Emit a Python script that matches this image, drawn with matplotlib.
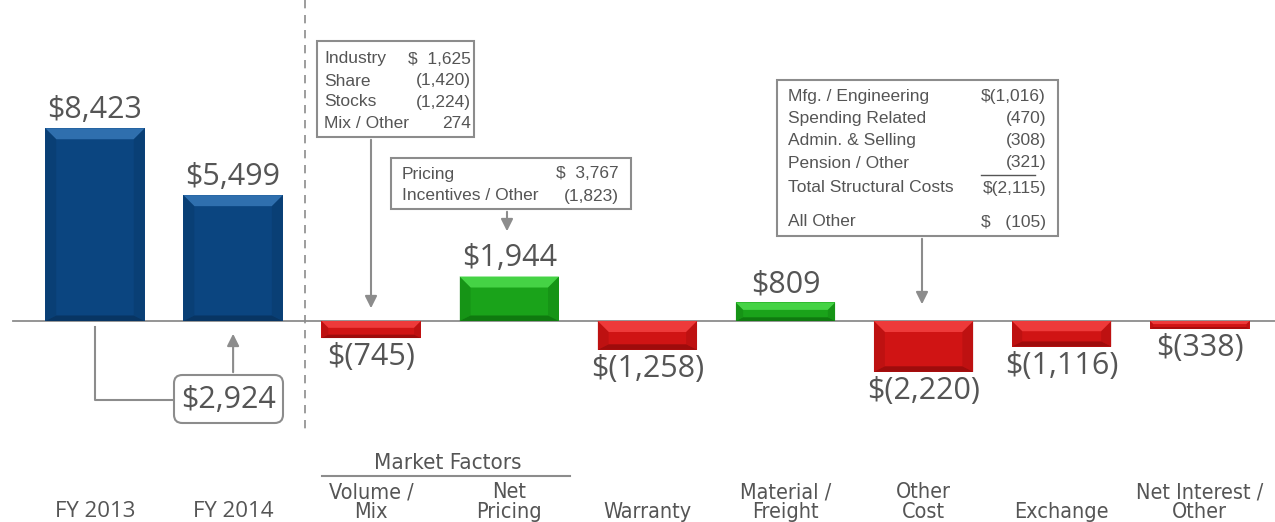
import numpy as np
import matplotlib.pyplot as plt
from matplotlib.patches import Polygon, FancyBboxPatch, Rectangle

# data ($ millions)
categories = ['FY 2013', 'FY 2014', 'Volume /\nMix', 'Net\nPricing', 'Warranty',
              'Material /\nFreight', 'Other\nCost', 'Exchange', 'Net Interest /\nOther']
values = [8423, 5499, -745, 1944, -1258, 809, -2220, -1116, -338]
labels = ['$8,423', '$5,499', '$(745)', '$1,944', '$(1,258)', '$809', '$(2,220)',
          '$(1,116)', '$(338)']
change_label = '$2,924'

volume_rows = [('Industry', '$  1,625'), ('Share', '(1,420)'),
               ('Stocks', '(1,224)'), ('Mix / Other', '274')]
pricing_rows = [('Pricing', '$  3,767'), ('Incentives / Other', '(1,823)')]
cost_rows = [('Mfg. / Engineering', '$(1,016)'), ('Spending Related', '(470)'),
             ('Admin. & Selling', '(308)'), ('Pension / Other', '(321)'),
             ('Total Structural Costs', '$(2,115)'), ('All Other', '$   (105)')]

GRAY = '#555555'
LINE = '#8c8c8c'
VALFONT = ['Open Sans', 'DejaVu Sans']
CATFONT = ['DejaVu Sans']
BOXFONT = ['Liberation Sans', 'DejaVu Sans']

W, H = 1275, 522
XSTEP, X0 = 138.1, 95          # px per category, px of first center
YSCALE, Y0 = 43.7, 321         # $M per px, px of zero line


def px(x):
    return (x - X0) / XSTEP


def py(y):
    return (Y0 - y) * YSCALE


fig = plt.figure(figsize=(W / 100, H / 100), dpi=100)
ax = fig.add_axes([0, 0, 1, 1])
ax.set_xlim(px(0), px(W))
ax.set_ylim(py(H), py(0))
ax.axis('off')

x = np.arange(len(values))
colors = ['#0b4580', '#0b4580'] + ['#1aa31a' if v > 0 else '#d01414' for v in values[2:]]
light = ['#2f6fae', '#2f6fae'] + ['#45d345' if v > 0 else '#ee3a3a' for v in values[2:]]
dark = ['#083563', '#083563'] + ['#0f7a0f' if v > 0 else '#9e0c0c' for v in values[2:]]

bars = ax.bar(x, values, width=0.72, color=colors, zorder=2)

# bevel effect
for b, lc, dc in zip(bars, light, dark):
    x0, w = b.get_x(), b.get_width()
    y_lo, y_hi = sorted([b.get_y(), b.get_y() + b.get_height()])
    dpx = min(11, (y_hi - y_lo) / YSCALE / 2.5)
    dx, dy = dpx / XSTEP, dpx * YSCALE
    top = [(x0, y_hi), (x0 + w, y_hi), (x0 + w - dx, y_hi - dy), (x0 + dx, y_hi - dy)]
    bot = [(x0, y_lo), (x0 + w, y_lo), (x0 + w - dx, y_lo + dy * 0.5), (x0 + dx, y_lo + dy * 0.5)]
    left = [(x0, y_lo), (x0, y_hi), (x0 + dx, y_hi - dy), (x0 + dx, y_lo + dy * 0.5)]
    right = [(x0 + w, y_lo), (x0 + w, y_hi), (x0 + w - dx, y_hi - dy), (x0 + w - dx, y_lo + dy * 0.5)]
    ax.add_patch(Polygon(top, closed=True, color=lc, zorder=3, lw=0))
    ax.add_patch(Polygon(bot, closed=True, color=dc, zorder=3, lw=0))
    ax.add_patch(Polygon(left, closed=True, color=dc, alpha=0.35, zorder=3, lw=0))
    ax.add_patch(Polygon(right, closed=True, color=dc, alpha=0.35, zorder=3, lw=0))

# zero line and separator
ax.plot([px(13), px(W)], [0, 0], color=LINE, lw=1.3, zorder=1)
ax.plot([px(305), px(305)], [py(0), py(430)], color=LINE, lw=1.2, ls=(0, (5, 4)), zorder=1)

# value labels
for xi, v, lab in zip(x, values, labels):
    off = 13 if v > 0 else -14
    ax.annotate(lab, (xi, v), xytext=(0, off), textcoords='offset points',
                ha='center', va='center', fontsize=22, color=GRAY, family=VALFONT)

# category labels
for xi, cat in zip(x, categories):
    if cat.startswith('FY'):
        ax.text(xi, py(517), cat, ha='center', va='baseline', fontsize=16, color=GRAY,
                family=VALFONT)
    else:
        for k, line in enumerate(reversed(cat.split('\n'))):
            ax.text(xi, py(518 - 20 * k), line, ha='center', va='baseline', fontsize=15.5,
                    color=GRAY, family=CATFONT, stretch='condensed')
ax.text(px(448), py(469), 'Market Factors', ha='center', va='baseline', fontsize=16,
        color=GRAY, family=CATFONT, stretch='condensed')
ax.plot([px(322), px(570)], [py(476), py(476)], color=LINE, lw=1.5)

# FY change callout
ax.plot([0, 0, px(174)], [py(327), py(400), py(400)], color=LINE, lw=1.5)
ax.annotate('', xy=(1, py(331)), xytext=(1, py(375)),
            arrowprops=dict(arrowstyle='-|>', color=LINE, lw=1.5, mutation_scale=18))
ax.add_patch(FancyBboxPatch((px(174), py(423)), px(283) - px(174), py(375) - py(423),
                            boxstyle='round,pad=0,rounding_size=0.06',
                            mutation_aspect=YSCALE * XSTEP,
                            fc='white', ec=LINE, lw=1.5, zorder=4))
ax.text(px(229), py(400), change_label, ha='center', va='center', fontsize=22,
        color=GRAY, family=VALFONT, zorder=5)


def table_box(x_l, x_r, y_t, y_b, rows, row_y, lab_x, val_x):
    ax.add_patch(Rectangle((px(x_l), py(y_b)), px(x_r) - px(x_l), py(y_t) - py(y_b),
                           fc='white', ec=LINE, lw=1.5, zorder=4))
    for (lab, val), yy in zip(rows, row_y):
        ax.text(px(lab_x), py(yy), lab, ha='left', va='center', fontsize=12.5,
                color=GRAY, family=BOXFONT, zorder=5)
        ax.text(px(val_x), py(yy), val, ha='right', va='center', fontsize=12.5,
                color=GRAY, family=BOXFONT, zorder=5)


def arrow_down(xa, y_from, y_to):
    ax.annotate('', xy=(px(xa), py(y_to)), xytext=(px(xa), py(y_from)),
                arrowprops=dict(arrowstyle='-|>', color=LINE, lw=1.5, mutation_scale=18))


table_box(317, 474, 41, 137, volume_rows, [59, 81, 102, 124], 324, 471)
arrow_down(371, 137, 311)
table_box(391, 631, 158, 209, pricing_rows, [174, 196], 402, 619)
arrow_down(507, 209, 234)
table_box(777, 1058, 80, 236, cost_rows, [97, 119, 141, 163, 188, 222], 788, 1046)
ax.plot([px(981), px(1035)], [py(175), py(175)], color=GRAY, lw=1, zorder=5)
arrow_down(922, 236, 307)

fig.savefig('out.png', dpi=100, facecolor='white')
